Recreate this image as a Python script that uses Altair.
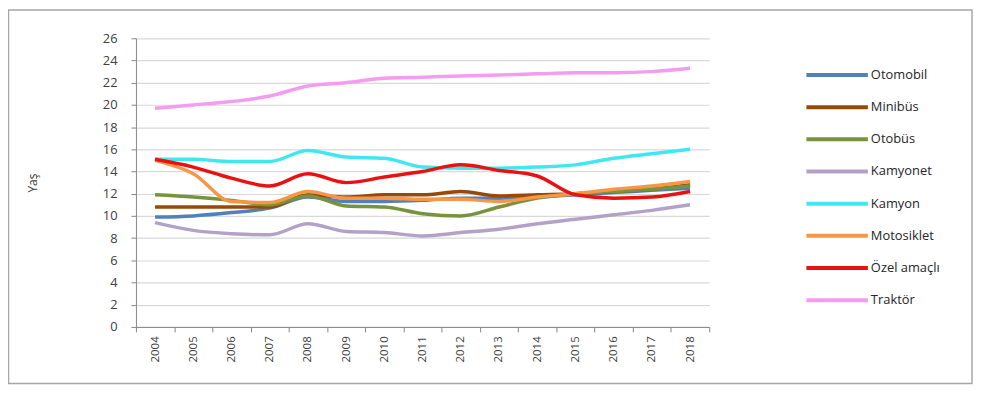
import altair as alt
import pandas as pd

years = [str(y) for y in range(2004, 2019)]
names = ["Otomobil", "Minibüs", "Otobüs", "Kamyonet", "Kamyon", "Motosiklet", "Özel amaçlı", "Traktör"]
colors = ["#4f81bd", "#984807", "#77933c", "#b3a2c7", "#3fe8f0", "#f79646", "#e81212", "#f39cf0"]

otomobil = [9.9, 10.0, 10.3, 10.7, 11.7, 11.3, 11.3, 11.4, 11.6, 11.6, 11.7, 11.9, 12.1, 12.3, 12.5]
minibus = [10.8, 10.8, 10.8, 10.8, 11.9, 11.7, 11.9, 11.9, 12.2, 11.8, 11.9, 12.0, 12.2, 12.4, 12.8]
otobus = [11.9, 11.7, 11.4, 11.0, 11.8, 10.9, 10.8, 10.2, 10.0, 10.8, 11.6, 12.0, 12.2, 12.4, 12.7]
kamyonet = [9.4, 8.7, 8.4, 8.3, 9.3, 8.6, 8.5, 8.2, 8.5, 8.8, 9.3, 9.7, 10.1, 10.5, 11.0]
kamyon = [15.1, 15.1, 14.9, 14.9, 15.9, 15.3, 15.2, 14.4, 14.3, 14.3, 14.4, 14.6, 15.2, 15.6, 16.0]
motosiklet = [15.0, 13.8, 11.3, 11.2, 12.2, 11.6, 11.6, 11.5, 11.5, 11.3, 11.7, 12.0, 12.4, 12.7, 13.1]
ozel = [15.1, 14.4, 13.4, 12.7, 13.8, 13.0, 13.5, 14.0, 14.6, 14.1, 13.6, 11.9, 11.6, 11.7, 12.2]
traktor = [19.7, 20.0, 20.3, 20.8, 21.7, 22.0, 22.4, 22.5, 22.6, 22.7, 22.8, 22.9, 22.9, 23.0, 23.3]

series = [otomobil, minibus, otobus, kamyonet, kamyon, motosiklet, ozel, traktor]
y_ticks = list(range(0, 27, 2))

rows = []
for n, vals in zip(names, series):
    for yr, v in zip(years, vals):
        rows.append({"series": n, "year": yr, "value": v})
df = pd.DataFrame(rows)
legdf = pd.DataFrame({"series": names})

FONT = "Open Sans"
color_scale = alt.Scale(domain=names, range=colors)

frame = alt.Chart(pd.DataFrame({"a": [0]})).mark_rect(
    fill="white", fillOpacity=0, stroke="#a6a6a6", strokeWidth=1.5, clip=False
).encode(
    x=alt.value(-128.5), x2=alt.value(843), y=alt.value(-28.5), y2=alt.value(348)
)

lines = alt.Chart(df).mark_line(strokeWidth=3.5, interpolate="monotone").encode(
    x=alt.X(
        "year:O",
        sort=years,
        bandPosition=0.5,
        scale=alt.Scale(type="band", paddingInner=0, paddingOuter=0),
        axis=alt.Axis(
            title=None, labelAngle=-90, labelFont=FONT, labelFontSize=11.5,
            labelColor="#404040", domainColor="#868686", tickColor="#868686",
            tickSize=5, tickBand="extent", grid=False, labelPadding=4,
        ),
    ),
    y=alt.Y(
        "value:Q",
        scale=alt.Scale(domain=[0, 26], nice=False),
        axis=alt.Axis(
            values=y_ticks, title="Yaş", titleFont=FONT, titleFontSize=12,
            titleFontWeight="normal", titleColor="#404040", titleX=-104, titleY=145.5,
            titleAngle=-90, titleAlign="center", titleBaseline="middle",
            labelFont=FONT, labelFontSize=13, labelColor="#404040",
            domainColor="#868686", tickColor="#868686", tickSize=5, labelPadding=14,
            gridColor="#d9d9d9", gridWidth=1.2,
        ),
    ),
    color=alt.Color("series:N", scale=color_scale, legend=None),
    detail="series:N",
)

leg_y = alt.Y("series:N", sort=names, axis=None,
              scale=alt.Scale(type="point", domain=names, range=[37, 264], padding=0))

leg_rules = alt.Chart(legdf).mark_rule(strokeWidth=4).encode(
    x=alt.value(676), x2=alt.value(738), y=leg_y,
    color=alt.Color("series:N", scale=color_scale, legend=None),
)

leg_text = alt.Chart(legdf).mark_text(
    align="left", baseline="middle", font=FONT, fontSize=13, color="#262626"
).encode(
    x=alt.value(741), y=leg_y, text="series:N"
)

chart = alt.layer(frame, lines, leg_rules, leg_text).resolve_scale(
    y="independent"
).properties(
    width=578, height=291,
    padding={"left": 129, "top": 29, "right": 269, "bottom": 58},
    autosize=alt.AutoSizeParams(type="none"),
    background="white",
).configure_view(stroke=None)

chart.save("out.html", embed_options={"renderer": "svg", "actions": False})
